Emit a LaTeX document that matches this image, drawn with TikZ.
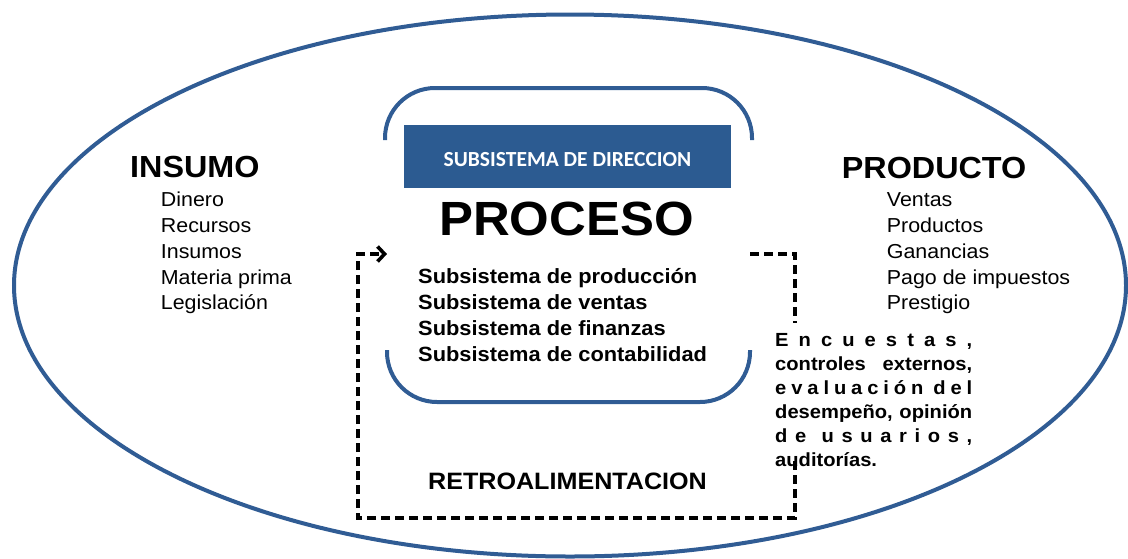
\documentclass[tikz,border=0pt]{standalone}
\usepackage{fontspec}
\setmainfont{Liberation Sans}[FakeStretch=1.06]
\newfontfamily\calib{Carlito}
\usetikzlibrary{arrows.meta}
\definecolor{ellblue}{RGB}{48,92,148}
\definecolor{boxblue}{RGB}{44,91,145}
\begin{document}
\begin{tikzpicture}[x=1pt,y=-1pt,
  bluearc/.style={draw=ellblue, line width=4pt, rounded corners=50pt},
  fbline/.style={draw=black, line width=3.6pt, dash pattern=on 9pt off 5pt},
  headtxt/.style={font=\bfseries\fontsize{30.5}{34}\selectfont, anchor=base west, inner sep=0pt},
  itemtxt/.style={font=\fontsize{20.2}{24}\selectfont, anchor=base west, inner sep=0pt},
  subtxt/.style={font=\bfseries\fontsize{20.6}{24}\selectfont, anchor=base west, inner sep=0pt},
  enctxt/.style={font=\bfseries\fontsize{19}{22}\selectfont, anchor=base west, inner sep=0pt},
  dirbox/.style={fill=boxblue, minimum width=327pt, minimum height=63pt, inner sep=0pt}]
\useasboundingbox (0,0) rectangle (1128,558);
% outer ellipse
\draw[draw=ellblue, line width=4pt] (570,285.5) ellipse [x radius=556pt, y radius=271pt];
% brackets
\draw[bluearc] (385,140) -- (385,88) -- (752,88) -- (752,140);
\draw[bluearc] (387,350) -- (387,402) -- (750,402) -- (750,350);
% direction box
\node[dirbox] (dir) at (567.5,156.5) {};
\node[anchor=base, inner sep=0pt, text=white, font=\calib\bfseries\fontsize{21.5}{24}\selectfont] (dirtxt) at (567.5,166.7) {SUBSISTEMA DE DIRECCION};
% proceso
\node[anchor=base, inner sep=0pt, font=\bfseries\fontsize{48}{52}\selectfont] (proc) at (566.5,235) {PROCESO};
\foreach \t [count=\i] in {Subsistema de producción, Subsistema de ventas, Subsistema de finanzas, Subsistema de contabilidad}
  \node[subtxt, name=sub\i] at (418,{283.3+26*(\i-1)}) {\t};
% feedback loop
\coordinate (fbstart) at (750,254);
\coordinate (fbend) at (387,254);
\draw[fbline, -{Straight Barb[length=7pt, width=15pt]}] (fbstart) -- (795,254) -- (795,518) -- (358,518) -- (358,254) -- (fbend);
\node[anchor=base, inner sep=0pt, font=\bfseries\fontsize{23.7}{26}\selectfont] (retro) at (567.5,489.3) {RETROALIMENTACION};
% feedback text
\fill[white] (776,323) rectangle (972,458);
\node[enctxt] (e1) at (775,346.7) {\hbox to 197pt{E\hfil n\hfil c\hfil u\hfil e\hfil s\hfil t\hfil a\hfil s\hfil ,}};
\node[enctxt] (e2) at (775,370.7) {\hbox to 197pt{controles\hfil externos,}};
\node[enctxt] (e3) at (775,394.7) {\hbox to 197pt{e\hfil v\hfil a\hfil l\hfil u\hfil a\hfil c\hfil i\hfil ó\hfil n\hfil\hfil d\hfil e\hfil l}};
\node[enctxt] (e4) at (775,418.7) {\hbox to 197pt{desempeño,\hfil opinión}};
\node[enctxt] (e5) at (775,442.7) {\hbox to 197pt{d\hfil e\hfil\hfil u\hfil s\hfil u\hfil a\hfil r\hfil i\hfil o\hfil s\hfil ,}};
\node[enctxt] (e6) at (775,466.7) {auditorías.};
% insumo
\node[headtxt] (ins) at (130,177.3) {INSUMO};
\foreach \t [count=\i] in {Dinero, Recursos, Insumos, Materia prima, Legislación}
  \node[itemtxt, name=insi\i] at (160.7,{206.7+25.8*(\i-1)}) {\t};
% producto
\node[headtxt] (prod) at (841.7,178.3) {PRODUCTO};
\foreach \t [count=\i] in {Ventas, Productos, Ganancias, Pago de impuestos, Prestigio}
  \node[itemtxt, name=prodi\i] at (886.7,{206.7+25.8*(\i-1)}) {\t};
\end{tikzpicture}
\end{document}
